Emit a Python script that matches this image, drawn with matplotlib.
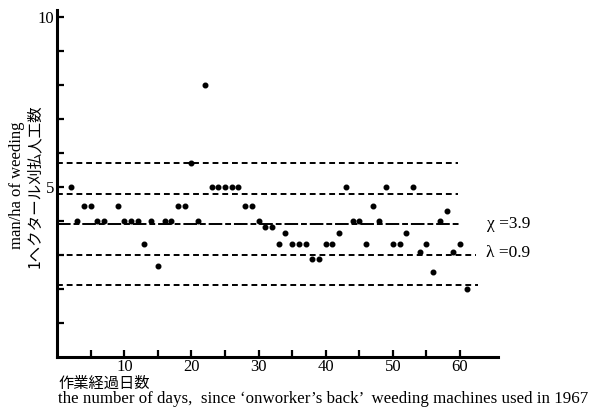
import numpy as np
import matplotlib.pyplot as plt

serif = ['Liberation Serif', 'Noto Sans CJK JP']
jp = ['Noto Sans CJK JP', 'Liberation Serif']

# man/ha of weeding per working day
days = [2, 3, 4, 5, 6, 7, 9, 10, 11, 12, 13, 14, 15, 16, 17, 18, 19, 20,
        21, 22, 23, 24, 25, 26, 27, 28, 29, 30, 31, 32, 33, 34, 35, 36, 37,
        38, 39, 40, 41, 42, 43, 44, 45, 46, 47, 48, 49, 50, 51, 52, 53, 54,
        55, 56, 57, 58, 59, 60, 61]
manha = [5.0, 4.0, 4.44, 4.44, 4.0, 4.0, 4.44, 4.0, 4.0, 4.0, 3.33, 4.0, 2.67, 4.0, 4.0, 4.44, 4.44, 5.71,
         4.0, 8.0, 5.0, 5.0, 5.0, 5.0, 5.0, 4.44, 4.44, 4.0, 3.81, 3.81, 3.33, 3.64, 3.33, 3.33, 3.33,
         2.86, 2.86, 3.33, 3.33, 3.64, 5.0, 4.0, 4.0, 3.33, 4.44, 4.0, 5.0, 3.33, 3.33, 3.64, 5.0, 3.08,
         3.33, 2.5, 4.0, 4.29, 3.08, 3.33, 2.0]

mean = 3.9
lam = 0.9
line_k = [2, 1, 0, -1, -2]
line_end = [59.7, 59.7, 59.8, 62.4, 62.7]

fig = plt.figure(figsize=(5.96, 4.13), dpi=100)
ax = fig.add_axes([0.096, 0.1363, 0.740, 0.8395])

for k, end in zip(line_k, line_end):
    if k == 0:
        ls = (0, (7, 1.5, 3, 1.5))
    else:
        ls = (0, (3, 2))
    ax.plot([0, end], [mean + k * lam, mean + k * lam], color='black', lw=1.4,
            linestyle=ls, clip_on=False)

ax.plot(days, manha, 'o', color='black', ms=3.3, clip_on=False)

ax.text(64, 3.9, 'χ =3.9', fontsize=12.5, family=serif, ha='left', va='center')
ax.text(63.9, 3.05, 'λ =0.9', fontsize=12.5, family=serif, ha='left', va='center')

ax.set_xlim(0, 65.7)
ax.set_ylim(0, 10.2)
ax.spines['top'].set_visible(False)
ax.spines['right'].set_visible(False)
ax.spines['left'].set_linewidth(2.2)
ax.spines['bottom'].set_linewidth(2.2)

ax.set_xticks(np.arange(5, 61, 5))
ax.set_xticklabels(['' if d % 10 else str(d) for d in range(5, 61, 5)])
ax.set_yticks(np.arange(1, 11))
ax.set_yticklabels(['5' if v == 5 else ('10' if v == 10 else '') for v in range(1, 11)])
ax.tick_params(direction='in', length=5, width=1.6, labelsize=12, pad=2)
for lab in ax.get_xticklabels() + ax.get_yticklabels():
    lab.set_family(serif)

fig.text(17 / 596, 1 - 185 / 413, 'man/ha of weeding', rotation=90, fontsize=12,
         family=serif, ha='center', va='center')
fig.text(34 / 596, 1 - 186 / 413, '1ヘクタール刈払人工数', rotation=90, fontsize=11.2,
         family=jp, ha='center', va='center')
fig.text(58 / 596, 1 - 383 / 413, '作業経過日数', fontsize=11, family=jp,
         ha='left', va='center')
fig.text(58 / 596, 1 - 399 / 413,
         'the number of days,  since \u2018onworker\u2019s back\u2019  weeding machines used in 1967',
         fontsize=12.2, family=serif, ha='left', va='center')

fig.savefig('out.png', dpi=100)
